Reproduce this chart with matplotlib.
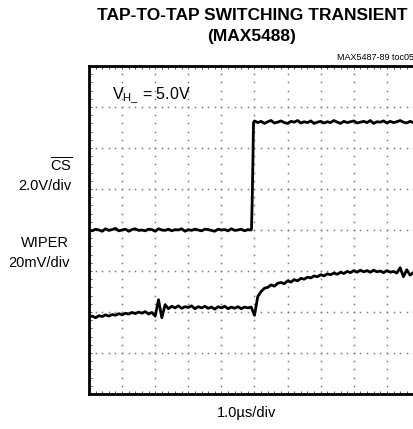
import numpy as np
import matplotlib
matplotlib.use("Agg")
import matplotlib.pyplot as plt

FONT = ["Liberation Sans", "DejaVu Sans"]
plt.rcParams["font.family"] = FONT
plt.rcParams["mathtext.fontset"] = "custom"
plt.rcParams["mathtext.rm"] = "Liberation Sans"
plt.rcParams["mathtext.it"] = "Liberation Sans"

# time axis in divisions (1.0us/div), scope samples
t = np.round(np.arange(0, 10.01, 0.1), 2)

# CS trace (divisions), low before the edge, high after
cs_low = [4.01, 3.98, 4.02, 4.00, 3.97, 4.03, 3.99, 4.01, 4.04, 3.98,
          4.00, 4.02, 3.97, 4.01, 4.03, 3.99, 4.00, 3.98, 4.02, 4.01,
          3.97, 4.03, 4.00, 3.99, 4.02, 3.98, 4.01, 4.00, 4.03, 3.97,
          4.01, 3.99, 4.02, 4.00, 3.98, 4.02, 4.01, 3.99, 3.97, 4.02,
          4.00, 4.01, 3.98, 4.03, 3.99, 4.00, 4.02, 3.98, 4.01, 4.00]
cs_edge_t = [4.91, 4.93, 4.95, 4.97]
cs_edge_v = [4.05, 4.70, 5.60, 6.62]
cs_high = [6.66, 6.62, 6.65, 6.60, 6.64, 6.67, 6.61, 6.63, 6.66, 6.62,
           6.60, 6.65, 6.63, 6.67, 6.61, 6.64, 6.62, 6.66, 6.60, 6.63,
           6.65, 6.61, 6.64, 6.62, 6.67, 6.63, 6.60, 6.65, 6.62, 6.64,
           6.66, 6.61, 6.63, 6.65, 6.62, 6.67, 6.60, 6.64, 6.63, 6.66,
           6.61, 6.65, 6.62, 6.64, 6.67, 6.63, 6.61, 6.65, 6.62, 6.66, 6.64]

# WIPER trace (divisions)
wiper = [1.88, 1.90, 1.86, 1.91, 1.89, 1.93, 1.90, 1.94, 1.92, 1.96,
         1.93, 1.97, 1.95, 1.99, 1.96, 2.00, 1.97, 2.01, 1.95, 1.99,
         1.90, 2.30, 1.86, 2.18, 2.08, 2.14, 2.10, 2.15, 2.09, 2.13,
         2.11, 2.15, 2.08, 2.13, 2.10, 2.14, 2.09, 2.12, 2.07, 2.13,
         2.10, 2.14, 2.08, 2.12, 2.09, 2.13, 2.08, 2.12, 2.10, 2.12,
         1.92, 2.38, 2.50, 2.58, 2.60, 2.66, 2.63, 2.70, 2.72, 2.69,
         2.76, 2.73, 2.79, 2.76, 2.82, 2.80, 2.85, 2.83, 2.88, 2.86,
         2.91, 2.88, 2.93, 2.91, 2.95, 2.92, 2.97, 2.94, 2.99, 2.96,
         3.01, 2.97, 3.02, 2.98, 3.01, 2.97, 3.02, 2.98, 3.00, 2.96,
         3.01, 2.97, 2.99, 2.95, 3.08, 2.86, 3.03, 2.90, 2.96, 2.91, 2.94]

cs_t = list(t[:50]) + cs_edge_t + list(t[50:])
cs_v = cs_low + cs_edge_v + cs_high

fig = plt.figure(figsize=(4.14, 4.29), dpi=100)
ax = fig.add_axes([89 / 414, 35 / 429, 331 / 414, 328 / 429])
ax.set_xlim(0, 10)
ax.set_ylim(0, 8)

# dotted scope graticule
for gx in range(1, 10):
    ys = np.arange(0, 8.01, 0.2)
    ax.plot([gx] * len(ys), ys, ls="none", marker="s", ms=1.1, color="#7a7a7a", mew=0)
for gy in range(1, 8):
    xs = np.arange(0, 10.01, 0.2)
    ax.plot(xs, [gy] * len(xs), ls="none", marker="s", ms=1.1, color="#7a7a7a", mew=0)

ax.plot(cs_t, cs_v, color="black", lw=2.0)
ax.plot(t, wiper, color="black", lw=2.0)

for s in ["left", "top", "bottom"]:
    ax.spines[s].set_linewidth(2)
ax.spines["right"].set_visible(False)
ax.set_xticks(np.arange(0, 10.01, 0.2), minor=True)
ax.set_yticks(np.arange(0, 8.01, 0.2), minor=True)
ax.set_xticks([])
ax.set_yticks([])
ax.tick_params(which="minor", direction="in", length=2, width=0.8,
               color="#555555", top=True, bottom=True, left=True, right=False,
               labelbottom=False, labelleft=False)

ax.text(0.7, 7.3, r"V$_{\mathrm{H\_}}$ = 5.0V", fontsize=11.5, va="center")

fig.text(252 / 414, 1 - 15 / 429, "TAP-TO-TAP SWITCHING TRANSIENT", ha="center",
         va="center", fontsize=12.5, fontweight="bold")
fig.text(252 / 414, 1 - 36 / 429, "(MAX5488)", ha="center", va="center",
         fontsize=12.5, fontweight="bold")
fig.text(337 / 414, 1 - 57 / 429, "MAX5487-89 toc05", ha="left", va="center",
         fontsize=6.5)

fig.text(72 / 414, 1 - 166 / 429, r"$\overline{\mathrm{CS}}$", ha="right",
         va="center", fontsize=10.5)
fig.text(72 / 414, 1 - 186 / 429, "2.0V/div", ha="right", va="center", fontsize=10.5)
fig.text(45 / 414, 1 - 243 / 429, "WIPER", ha="center", va="center", fontsize=10.5)
fig.text(39 / 414, 1 - 263 / 429, "20mV/div", ha="center", va="center", fontsize=10.5)
fig.text(247 / 414, 1 - 413 / 429, "1.0\u00b5s/div", ha="center", va="center",
         fontsize=10.5)

fig.savefig("out.png", dpi=100)
